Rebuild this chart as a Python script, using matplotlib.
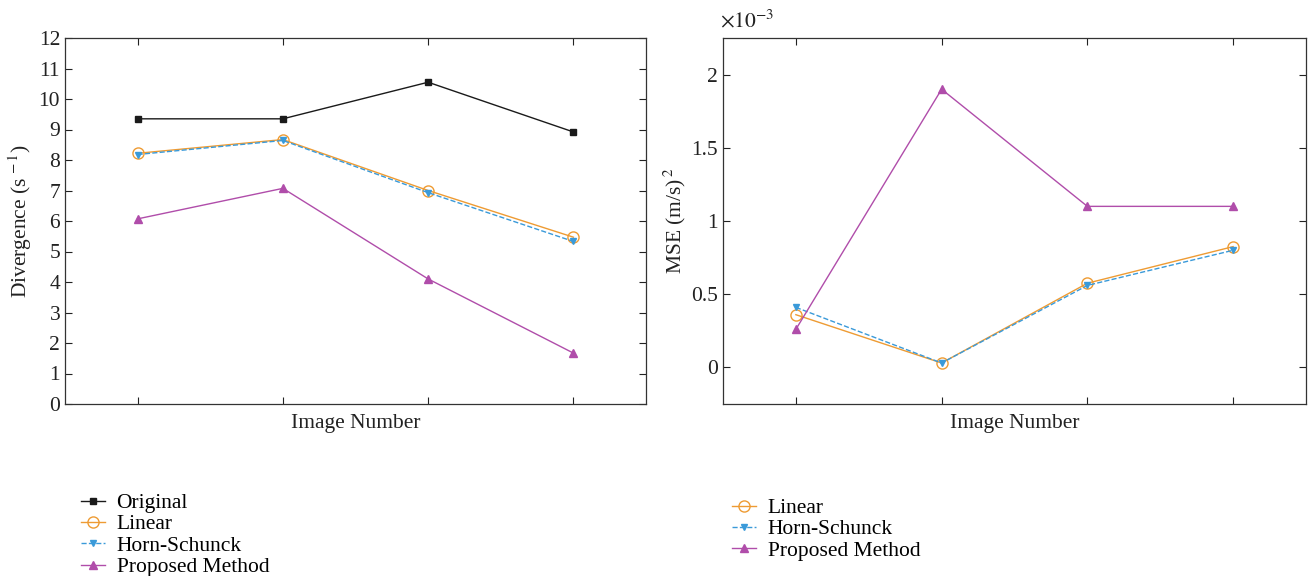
import matplotlib
matplotlib.use("Agg")
import matplotlib.pyplot as plt
from matplotlib.ticker import FuncFormatter

plt.rcParams['font.family'] = ['Liberation Serif', 'DejaVu Serif']
plt.rcParams['mathtext.fontset'] = 'stix'

images = [1, 2, 3, 4]

# Left panel: divergence (s^-1)
div_original = [9.35, 9.35, 10.55, 8.92]
div_linear = [8.22, 8.67, 7.00, 5.47]
div_horn = [8.18, 8.64, 6.93, 5.33]
div_proposed = [6.07, 7.07, 4.10, 1.67]

# Right panel: MSE in units of 1e-3 (m/s)^2
mse_linear = [0.36, 0.03, 0.575, 0.825]
mse_horn = [0.41, 0.03, 0.56, 0.80]
mse_proposed = [0.26, 1.90, 1.10, 1.10]

c_black = '#1a1a1a'
c_orange = '#EE9B33'
c_blue = '#3A9AD9'
c_purple = '#B04DAA'
c_text = '#222222'

fig = plt.figure(figsize=(13.1, 5.76), dpi=100)
axL = fig.add_axes([65/1310, 1-404/576, 581/1310, 366/576])
axR = fig.add_axes([723/1310, 1-404/576, 583/1310, 366/576])

FS = 15.5

def style(ax):
    ax.tick_params(direction='in', top=True, right=True, labelsize=FS, length=5, width=0.8, colors=c_text)
    ax.set_xticks(images)
    ax.set_xticklabels([])
    ax.set_xlim(0.5, 4.5)
    for s in ax.spines.values():
        s.set_linewidth(0.9)
        s.set_color('#333333')
    ax.set_xlabel('Image Number', fontsize=FS, labelpad=4, color=c_text)

lw = 1.0
hO, = axL.plot(images, div_original, '-s', color=c_black, lw=lw, ms=5, label='Original')
hL, = axL.plot(images, div_linear, '-o', color=c_orange, lw=lw, ms=8, mfc='none', mew=1.0, label='Linear')
hH, = axL.plot(images, div_horn, '--v', color=c_blue, lw=lw, ms=5, label='Horn-Schunck')
hP, = axL.plot(images, div_proposed, '-^', color=c_purple, lw=lw, ms=6, label='Proposed Method')
axL.set_ylim(0, 12)
axL.set_yticks(range(0, 13))
axL.set_ylabel('Divergence (s$^{\\,-1}$)', fontsize=FS, color=c_text, labelpad=3)
style(axL)

axR.plot(images, mse_linear, '-o', color=c_orange, lw=lw, ms=8, mfc='none', mew=1.0, label='Linear')
axR.plot(images, mse_horn, '--v', color=c_blue, lw=lw, ms=5, label='Horn-Schunck')
axR.plot(images, mse_proposed, '-^', color=c_purple, lw=lw, ms=6, label='Proposed Method')
axR.set_ylim(-0.25, 2.25)
axR.set_yticks([0, 0.5, 1, 1.5, 2])
axR.yaxis.set_major_formatter(FuncFormatter(lambda v, p: '%g' % v))
axR.set_ylabel('MSE (m/s)$^{\\,2}$', fontsize=FS, color=c_text, labelpad=2)
axR.text(-0.005, 1.015, '$\\times10^{-3}$', transform=axR.transAxes, fontsize=FS, color=c_text, ha='left', va='bottom')
style(axR)

leg_kw = dict(loc='upper left', frameon=False, fontsize=FS, labelspacing=0.06,
              handlelength=1.1, handletextpad=0.55, borderpad=0, borderaxespad=0)
fig.legend(handles=[hO, hL, hH, hP], bbox_to_anchor=(81/1310, 1-493/576), **leg_kw)
hs = axR.get_legend_handles_labels()
fig.legend(*hs, bbox_to_anchor=(732/1310, 1-498/576), **leg_kw)

fig.savefig('out.png', dpi=100)
